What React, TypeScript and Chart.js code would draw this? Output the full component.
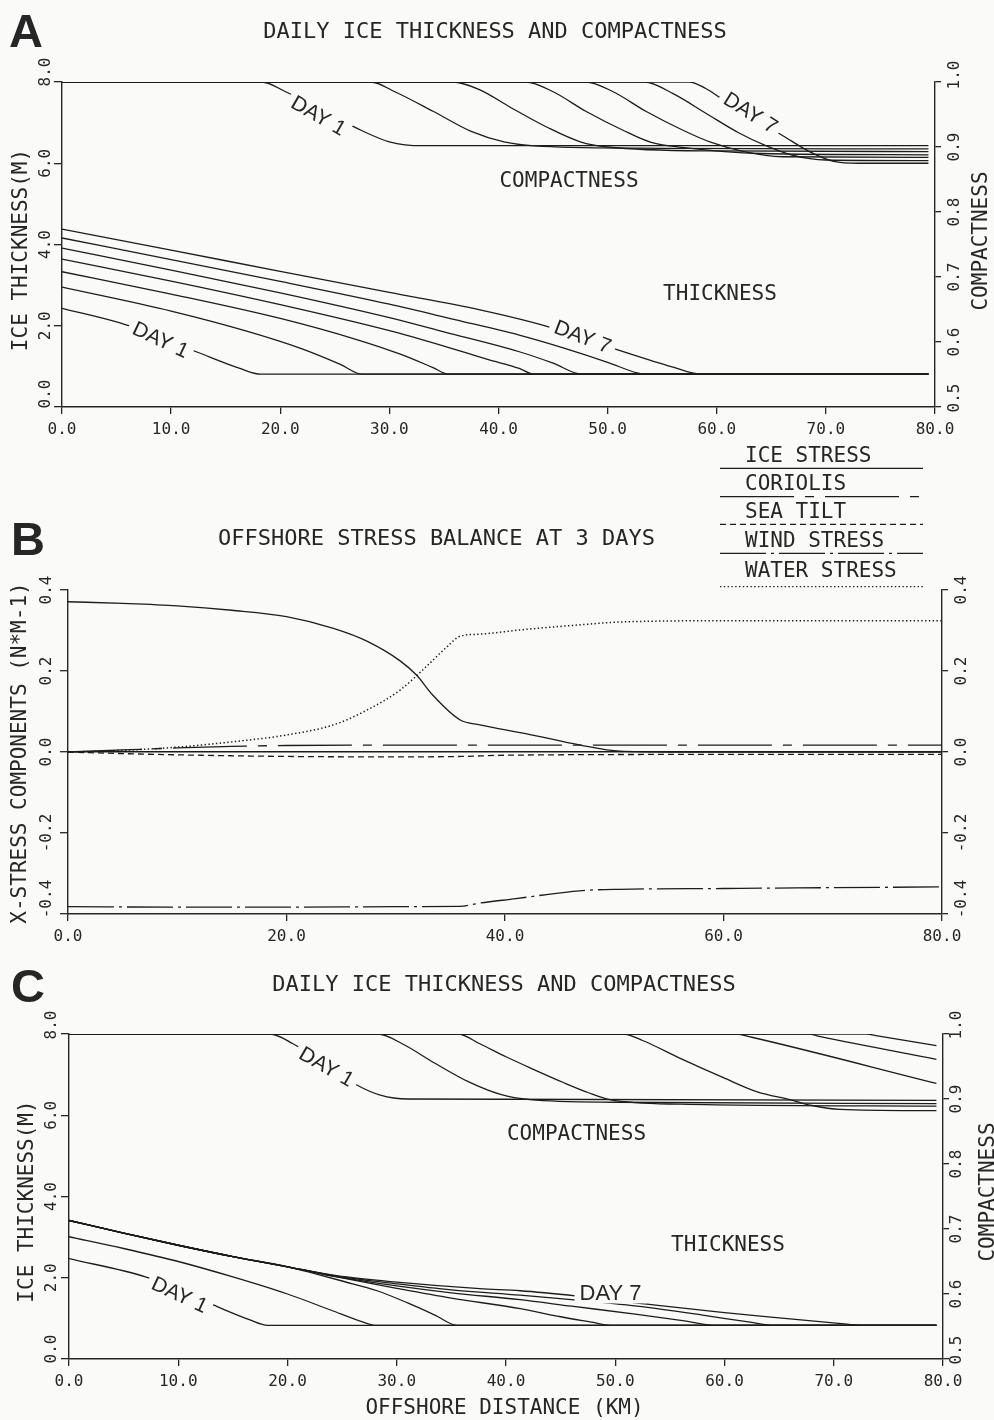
import React, { useEffect, useRef } from "react";
import { Chart, registerables } from "chart.js";
Chart.register(...registerables);

type P = [number, number];

// ---------------- Panel A : thickness (m) ----------------
const A_THICK_DAY1: P[] = [[0, 2.43], [5.8, 2.03], [12.3, 1.36], [16.3, 0.95], [18.2, 0.81], [79.4, 0.81]];
const A_THICK_DAY2: P[] = [[0, 2.95], [10, 2.36], [17, 1.86], [22, 1.43], [25.5, 1.05], [27.5, 0.81], [79.4, 0.81]];
const A_THICK_DAY3: P[] = [[0, 3.33], [10, 2.78], [20, 2.18], [27, 1.66], [31, 1.3], [34, 0.97], [35.4, 0.81], [79.4, 0.81]];
const A_THICK_DAY4: P[] = [[0, 3.64], [10, 3.1], [20, 2.52], [30, 1.88], [35, 1.5], [39, 1.17], [41.9, 0.95], [43.2, 0.81], [79.4, 0.81]];
const A_THICK_DAY5: P[] = [[0, 3.91], [10, 3.37], [20, 2.81], [30, 2.2], [35, 1.85], [41.9, 1.36], [45, 1.08], [47.6, 0.81], [79.4, 0.81]];
const A_THICK_DAY6: P[] = [[0, 4.16], [10, 3.63], [20, 3.09], [30, 2.53], [36, 2.15], [41.9, 1.77], [46, 1.45], [50, 1.1], [52.7, 0.84], [53.5, 0.81], [79.4, 0.81]];
const A_THICK_DAY7: P[] = [[0, 4.38], [10, 3.86], [20, 3.34], [30, 2.82], [38.3, 2.39], [44.5, 1.98], [51, 1.4], [56, 0.98], [58.5, 0.81], [79.4, 0.81]];

// ---------------- Panel A : compactness ----------------
const A_COMP_DAY1: P[] = [[0, 1], [18.3, 1], [20.5, 0.985], [24, 0.955], [27.5, 0.925], [30, 0.908], [33, 0.902], [79.4, 0.902]];
const A_COMP_DAY2: P[] = [[0, 1], [28.3, 1], [30.5, 0.985], [34, 0.955], [37.5, 0.924], [40.5, 0.908], [44, 0.901], [55, 0.898], [79.4, 0.897]];
const A_COMP_DAY3: P[] = [[0, 1], [35.8, 1], [38.3, 0.988], [41, 0.962], [44.5, 0.93], [47.5, 0.908], [50, 0.9], [60, 0.894], [79.4, 0.893]];
const A_COMP_DAY4: P[] = [[0, 1], [42.5, 1], [45, 0.985], [48, 0.955], [51.5, 0.925], [54, 0.907], [57, 0.899], [64, 0.89], [79.4, 0.888]];
const A_COMP_DAY5: P[] = [[0, 1], [48, 1], [50.5, 0.985], [53.5, 0.955], [57, 0.925], [59.5, 0.907], [62.5, 0.893], [66, 0.885], [79.4, 0.884]];
const A_COMP_DAY6: P[] = [[0, 1], [53.4, 1], [56, 0.982], [59, 0.952], [62, 0.922], [64.5, 0.902], [67, 0.887], [70, 0.88], [79.4, 0.879]];
const A_COMP_DAY7: P[] = [[0, 1], [57.5, 1], [59, 0.99], [60.3, 0.976], [63, 0.948], [66.1, 0.917], [68.5, 0.893], [70.7, 0.878], [73, 0.875], [79.4, 0.875]];

// ---------------- Panel B : stress balance at 3 days (N m-1) ----------------
const B_ICE_STRESS: P[] = [[0, 0.371], [5, 0.367], [10, 0.361], [15, 0.35], [20, 0.334], [24.3, 0.305], [27.4, 0.273], [30.4, 0.225], [31.9, 0.19], [33.4, 0.14], [35.9, 0.079], [37.7, 0.067], [42, 0.045], [46.9, 0.017], [50.5, 0.002], [55, 0], [80, 0]];
const B_CORIOLIS: P[] = [[0, 0], [5, 0.005], [10, 0.01], [15, 0.014], [20, 0.016], [30, 0.017], [40, 0.017], [80, 0.017]];
const B_SEA_TILT: P[] = [[0, 0], [5, -0.004], [10, -0.007], [20, -0.011], [30, -0.012], [36, -0.011], [40, -0.008], [60, -0.006], [80, -0.006]];
const B_WIND_STRESS: P[] = [[0, -0.382], [10, -0.383], [20, -0.383], [30, -0.382], [35.9, -0.381], [37.7, -0.373], [41, -0.362], [44.7, -0.349], [47.8, -0.341], [50.5, -0.339], [60, -0.337], [80, -0.333]];
const B_WATER_STRESS: P[] = [[0, 0], [5, 0.004], [10, 0.012], [15, 0.025], [20, 0.042], [24.3, 0.067], [27.4, 0.104], [30.4, 0.153], [32.8, 0.211], [34.7, 0.26], [35.9, 0.286], [37.7, 0.291], [42, 0.303], [46.9, 0.314], [50.5, 0.321], [60, 0.324], [80, 0.324]];

// ---------------- Panel C : thickness (m) ----------------
const C_THICK_DAY1: P[] = [[0, 2.47], [7, 2.02], [13.2, 1.33], [16.5, 0.97], [18.2, 0.83], [79.4, 0.83]];
const C_THICK_DAY2: P[] = [[0, 3.01], [5, 2.72], [10, 2.4], [15, 2.02], [20, 1.6], [24, 1.2], [26.8, 0.92], [28, 0.83], [79.4, 0.83]];
const C_THICK_DAY3: P[] = [[0, 3.41], [5, 3.1], [10, 2.8], [15, 2.52], [20, 2.27], [22.5, 2.1], [25, 1.92], [28.2, 1.68], [31, 1.38], [33.5, 1.08], [35.5, 0.83], [79.4, 0.83]];
const C_THICK_DAY4: P[] = [[0, 3.41], [5, 3.1], [10, 2.8], [15, 2.52], [20, 2.27], [24.5, 2.02], [30, 1.74], [35, 1.5], [41.3, 1.24], [45, 1.04], [48, 0.9], [49.5, 0.83], [79.4, 0.83]];
const C_THICK_DAY5: P[] = [[0, 3.41], [5, 3.1], [10, 2.8], [15, 2.52], [20, 2.27], [24.5, 2.03], [30, 1.8], [35, 1.63], [41.3, 1.46], [46, 1.3], [52, 1.1], [56.5, 0.93], [59, 0.83], [79.4, 0.83]];
const C_THICK_DAY6: P[] = [[0, 3.41], [5, 3.1], [10, 2.8], [15, 2.52], [20, 2.27], [24.5, 2.04], [30, 1.85], [35, 1.7], [41.3, 1.57], [46.5, 1.45], [52, 1.3], [58, 1.08], [62.5, 0.9], [64.5, 0.83], [79.4, 0.83]];
const C_THICK_DAY7: P[] = [[0, 3.41], [5, 3.1], [10, 2.8], [15, 2.52], [20, 2.27], [24.5, 2.05], [30, 1.89], [37.6, 1.73], [41.3, 1.68], [46.5, 1.55], [52.9, 1.35], [60, 1.14], [66, 0.99], [71.2, 0.86], [72.5, 0.83], [79.4, 0.83]];

// ---------------- Panel C : compactness ----------------
const C_COMP_DAY1: P[] = [[0, 1], [18.4, 1], [20.5, 0.985], [23.5, 0.953], [26.3, 0.922], [28.5, 0.906], [31, 0.9], [79.4, 0.898]];
const C_COMP_DAY2: P[] = [[0, 1], [28.3, 1], [30.5, 0.985], [33.5, 0.955], [36.5, 0.927], [39.5, 0.907], [42.2, 0.899], [50, 0.895], [79.4, 0.893]];
const C_COMP_DAY3: P[] = [[0, 1], [35.6, 1], [37.6, 0.985], [40, 0.965], [42.2, 0.948], [45.3, 0.925], [47.5, 0.91], [49.5, 0.899], [56, 0.892], [79.4, 0.889]];
const C_COMP_DAY4: P[] = [[0, 1], [50.7, 1], [52.5, 0.99], [56, 0.962], [60, 0.932], [63, 0.911], [66, 0.899], [68, 0.89], [70.6, 0.884], [79.4, 0.882]];
const C_COMP_DAY5: P[] = [[0, 1], [61.1, 1], [62.5, 0.995], [79.4, 0.924]];
const C_COMP_DAY6: P[] = [[0, 1], [67.7, 1], [68.8, 0.996], [79.4, 0.961]];
const C_COMP_DAY7: P[] = [[0, 1], [73, 1], [74, 0.997], [79.4, 0.982]];

const DAY_NAMES = ["DAY 1", "DAY 2", "DAY 3", "DAY 4", "DAY 5", "DAY 6", "DAY 7"];
const A_THICK = [A_THICK_DAY1, A_THICK_DAY2, A_THICK_DAY3, A_THICK_DAY4, A_THICK_DAY5, A_THICK_DAY6, A_THICK_DAY7];
const A_COMP = [A_COMP_DAY1, A_COMP_DAY2, A_COMP_DAY3, A_COMP_DAY4, A_COMP_DAY5, A_COMP_DAY6, A_COMP_DAY7];
const C_THICK = [C_THICK_DAY1, C_THICK_DAY2, C_THICK_DAY3, C_THICK_DAY4, C_THICK_DAY5, C_THICK_DAY6, C_THICK_DAY7];
const C_COMP = [C_COMP_DAY1, C_COMP_DAY2, C_COMP_DAY3, C_COMP_DAY4, C_COMP_DAY5, C_COMP_DAY6, C_COMP_DAY7];

const B_LABELS = ["ICE STRESS", "CORIOLIS", "SEA TILT", "WIND STRESS", "WATER STRESS"];
const B_DASHES: number[][] = [[], [74, 11, 9, 11], [6, 4], [46, 5, 3, 5], [1.4, 2.4]];
const B_SERIES = [B_ICE_STRESS, B_CORIOLIS, B_SEA_TILT, B_WIND_STRESS, B_WATER_STRESS];

// ---------------- styling ----------------
const BG = "#fafaf8";
const INK = "#262626";
const LINE = "#1c1c1c";
const MONO = '"DejaVu Sans Mono", "Liberation Mono", monospace';
const SANS = '"Liberation Sans", Arial, sans-serif';

const toXY = (a: P[]) => a.map(([x, y]) => ({ x, y }));

function series(label: string, data: P[], yAxisID: string, dash: number[] = [], width = 1.3) {
  return {
    label,
    data: toXY(data),
    yAxisID,
    xAxisID: "x",
    borderColor: LINE,
    backgroundColor: LINE,
    borderWidth: width,
    borderDash: dash,
    pointRadius: 0,
    pointHoverRadius: 0,
    fill: false,
    cubicInterpolationMode: "monotone",
    borderCapStyle: "butt",
  };
}

const border = { display: true, color: INK, width: 1.4 };
function axisGrid(len: number) {
  return { drawOnChartArea: false, drawTicks: true, tickLength: len, color: INK, tickColor: INK, lineWidth: 1.3, tickWidth: 1.3 };
}

function xScale(step: number, height: number) {
  return {
    type: "linear",
    position: "bottom",
    min: 0,
    max: 80,
    afterFit: (s: any) => { s.height = height; },
    border,
    grid: axisGrid(7),
    ticks: {
      stepSize: step,
      autoSkip: false,
      maxRotation: 0,
      minRotation: 0,
      padding: 6,
      color: INK,
      font: { family: MONO, size: 16 },
      callback: (v: any) => Number(v).toFixed(1),
    },
  };
}

function yScale(position: string, min: number, max: number, step: number, width: number, tickLen: number, grid?: any) {
  return {
    type: "linear",
    position,
    min,
    max,
    afterFit: (s: any) => { s.width = width; },
    border,
    grid: grid || axisGrid(tickLen),
    ticks: { stepSize: step, display: false },
  };
}

type Txt = { t: string; x: number; y: number; size: number; fam?: string; bold?: boolean; rot?: number; bg?: boolean; align?: CanvasTextAlign };
type YLab = { id: string; x: number; topOff: number; botOff: number };
type Leg = { t: string; x: number; y: number; ly: number; x0: number; x1: number; dash: number[] };

function drawText(ctx: CanvasRenderingContext2D, it: Txt) {
  ctx.save();
  ctx.font = `${it.bold ? "bold " : ""}${it.size}px ${it.fam || MONO}`;
  ctx.translate(it.x, it.y);
  if (it.rot) ctx.rotate((it.rot * Math.PI) / 180);
  ctx.textAlign = it.align || "center";
  ctx.textBaseline = "alphabetic";
  if (it.bg) {
    const w = ctx.measureText(it.t).width;
    ctx.fillStyle = BG;
    ctx.fillRect(-w / 2 - 5, -it.size * 0.52, w + 10, it.size * 1.04);
  }
  ctx.fillStyle = INK;
  ctx.fillText(it.t, 0, it.size * 0.36);
  ctx.restore();
}

function decor(texts: Txt[], dayLabels: Txt[], ylabs: YLab[], legend: Leg[]) {
  return {
    id: "decor",
    afterDatasetsDraw(chart: any) {
      const ctx = chart.ctx as CanvasRenderingContext2D;
      dayLabels.forEach((d) => drawText(ctx, d));
    },
    afterDraw(chart: any) {
      const ctx = chart.ctx as CanvasRenderingContext2D;
      texts.forEach((d) => drawText(ctx, d));
      ylabs.forEach((yl) => {
        const sc = chart.scales[yl.id];
        const n = sc.ticks.length;
        sc.ticks.forEach((tk: any, i: number) => {
          const v = Math.abs(tk.value) < 1e-9 ? 0 : tk.value;
          const off = i === 0 ? yl.botOff : i === n - 1 ? yl.topOff : 0;
          drawText(ctx, { t: v.toFixed(1), x: yl.x, y: sc.getPixelForValue(tk.value) + off, size: 16, rot: -90 });
        });
      });
      legend.forEach((lg) => {
        drawText(ctx, { t: lg.t, x: lg.x, y: lg.y, size: 21, align: "left" });
        ctx.save();
        ctx.strokeStyle = LINE;
        ctx.lineWidth = 1.3;
        ctx.setLineDash(lg.dash);
        ctx.beginPath();
        ctx.moveTo(lg.x0, lg.ly);
        ctx.lineTo(lg.x1, lg.ly);
        ctx.stroke();
        ctx.restore();
      });
    },
  };
}

const baseOptions = (padTop: number, scales: any) => ({
  responsive: false,
  maintainAspectRatio: false,
  animation: false,
  devicePixelRatio: 1,
  events: [],
  layout: { padding: { top: padTop, left: 0, right: 0, bottom: 0 } },
  plugins: { legend: { display: false }, tooltip: { enabled: false }, title: { display: false } },
  scales,
});

function configA() {
  const datasets = [
    ...A_THICK.map((d, i) => series(`THICKNESS ${DAY_NAMES[i]}`, d, "y")),
    ...A_COMP.map((d, i) => series(`COMPACTNESS ${DAY_NAMES[i]}`, d, "y2")),
  ];
  const texts: Txt[] = [
    { t: "A", x: 26, y: 30, size: 47, fam: SANS, bold: true },
    { t: "DAILY ICE THICKNESS AND COMPACTNESS", x: 495, y: 30, size: 22 },
    { t: "ICE THICKNESS(M)", x: 19, y: 250, size: 21, rot: -90 },
    { t: "COMPACTNESS", x: 979, y: 241, size: 21, rot: -90 },
    { t: "COMPACTNESS", x: 569, y: 179, size: 21 },
    { t: "THICKNESS", x: 720, y: 292, size: 21 },
  ];
  const days: Txt[] = [
    { t: "DAY 1", x: 319, y: 115, size: 21, fam: SANS, rot: 30, bg: true },
    { t: "DAY 7", x: 751, y: 112, size: 21, fam: SANS, rot: 32, bg: true },
    { t: "DAY 1", x: 161, y: 339, size: 21, fam: SANS, rot: 25, bg: true },
    { t: "DAY 7", x: 583, y: 336, size: 21, fam: SANS, rot: 21, bg: true },
  ];
  return {
    type: "line",
    data: { datasets },
    options: baseOptions(82, {
      x: xScale(10, 38),
      y: yScale("left", 0, 8, 2, 62, 8),
      y2: yScale("right", 0.5, 1.0, 0.1, 59, 6),
    }),
    plugins: [decor(texts, days, [
      { id: "y", x: 44.5, topOff: -10, botOff: -13 },
      { id: "y2", x: 953.5, topOff: -7, botOff: -9 },
    ], [])],
  };
}

function configB() {
  const datasets = B_SERIES.map((d, i) => series(B_LABELS[i], d, "y", B_DASHES[i], i === 4 ? 1.5 : 1.3));
  const zeroGrid = {
    drawOnChartArea: true,
    drawTicks: true,
    tickLength: 8,
    tickColor: INK,
    tickWidth: 1.3,
    lineWidth: 1.4,
    color: (c: any) => (c.tick && Math.abs(c.tick.value) < 1e-9 ? LINE : "rgba(0,0,0,0)"),
  };
  const texts: Txt[] = [
    { t: "B", x: 28, y: 98, size: 47, fam: SANS, bold: true },
    { t: "OFFSHORE STRESS BALANCE AT 3 DAYS", x: 436.5, y: 97, size: 22 },
    { t: "X-STRESS COMPONENTS (N*M-1)", x: 18, y: 313, size: 21, rot: -90 },
  ];
  const legendY = [14, 42.8, 70.5, 99.5, 129.5];
  const lineY = [28.3, 56.7, 84.3, 113.3, 146.7];
  const legend: Leg[] = B_LABELS.map((t, i) => ({ t, x: 745, y: legendY[i], ly: lineY[i], x0: 720, x1: 923, dash: B_DASHES[i] }));
  return {
    type: "line",
    data: { datasets },
    options: baseOptions(150, {
      x: xScale(20, 36),
      y: yScale("left", -0.4, 0.4, 0.2, 68, 8, zeroGrid),
      y2: yScale("right", -0.4, 0.4, 0.2, 52, 6),
    }),
    plugins: [decor(texts, [], [
      { id: "y", x: 45.5, topOff: 0, botOff: -15 },
      { id: "y2", x: 960, topOff: 0, botOff: -15 },
    ], legend)],
  };
}

function configC() {
  const datasets = [
    ...C_THICK.map((d, i) => series(`THICKNESS ${DAY_NAMES[i]}`, d, "y")),
    ...C_COMP.map((d, i) => series(`COMPACTNESS ${DAY_NAMES[i]}`, d, "y2")),
  ];
  const texts: Txt[] = [
    { t: "C", x: 28, y: 35, size: 47, fam: SANS, bold: true },
    { t: "DAILY ICE THICKNESS AND COMPACTNESS", x: 504, y: 33, size: 22 },
    { t: "ICE THICKNESS(M)", x: 25.5, y: 251.5, size: 21, rot: -90 },
    { t: "COMPACTNESS", x: 986, y: 242, size: 21, rot: -90 },
    { t: "COMPACTNESS", x: 576.5, y: 182.5, size: 21 },
    { t: "THICKNESS", x: 728, y: 293.5, size: 21 },
    { t: "OFFSHORE DISTANCE (KM)", x: 504.5, y: 456, size: 21 },
  ];
  const days: Txt[] = [
    { t: "DAY 1", x: 327, y: 116, size: 21, fam: SANS, rot: 30, bg: true },
    { t: "DAY 1", x: 180, y: 344, size: 21, fam: SANS, rot: 25, bg: true },
    { t: "DAY 7", x: 610.5, y: 342, size: 22, fam: SANS, bg: true },
  ];
  return {
    type: "line",
    data: { datasets },
    options: baseOptions(84, {
      x: xScale(10, 61),
      y: yScale("left", 0, 8, 2, 69, 8),
      y2: yScale("right", 0.5, 1.0, 0.1, 51, 6),
    }),
    plugins: [decor(texts, days, [
      { id: "y", x: 50.5, topOff: -9, botOff: -10 },
      { id: "y2", x: 955, topOff: -9, botOff: -9 },
    ], [])],
  };
}

function Panel({ top, height, make }: { top: number; height: number; make: () => any }) {
  const ref = useRef<HTMLCanvasElement | null>(null);
  useEffect(() => {
    if (!ref.current) return;
    const chart = new Chart(ref.current, make());
    return () => chart.destroy();
  }, []);
  return (
    <canvas
      ref={ref}
      width={994}
      height={height}
      style={{ position: "absolute", left: 0, top, width: 994, height, display: "block" }}
    />
  );
}

export default function App() {
  return (
    <div style={{ position: "absolute", left: 0, top: 0, width: 994, height: 1420, background: BG, overflow: "hidden" }}>
      <Panel top={0} height={445} make={configA} />
      <Panel top={440} height={510} make={configB} />
      <Panel top={950} height={470} make={configC} />
    </div>
  );
}
